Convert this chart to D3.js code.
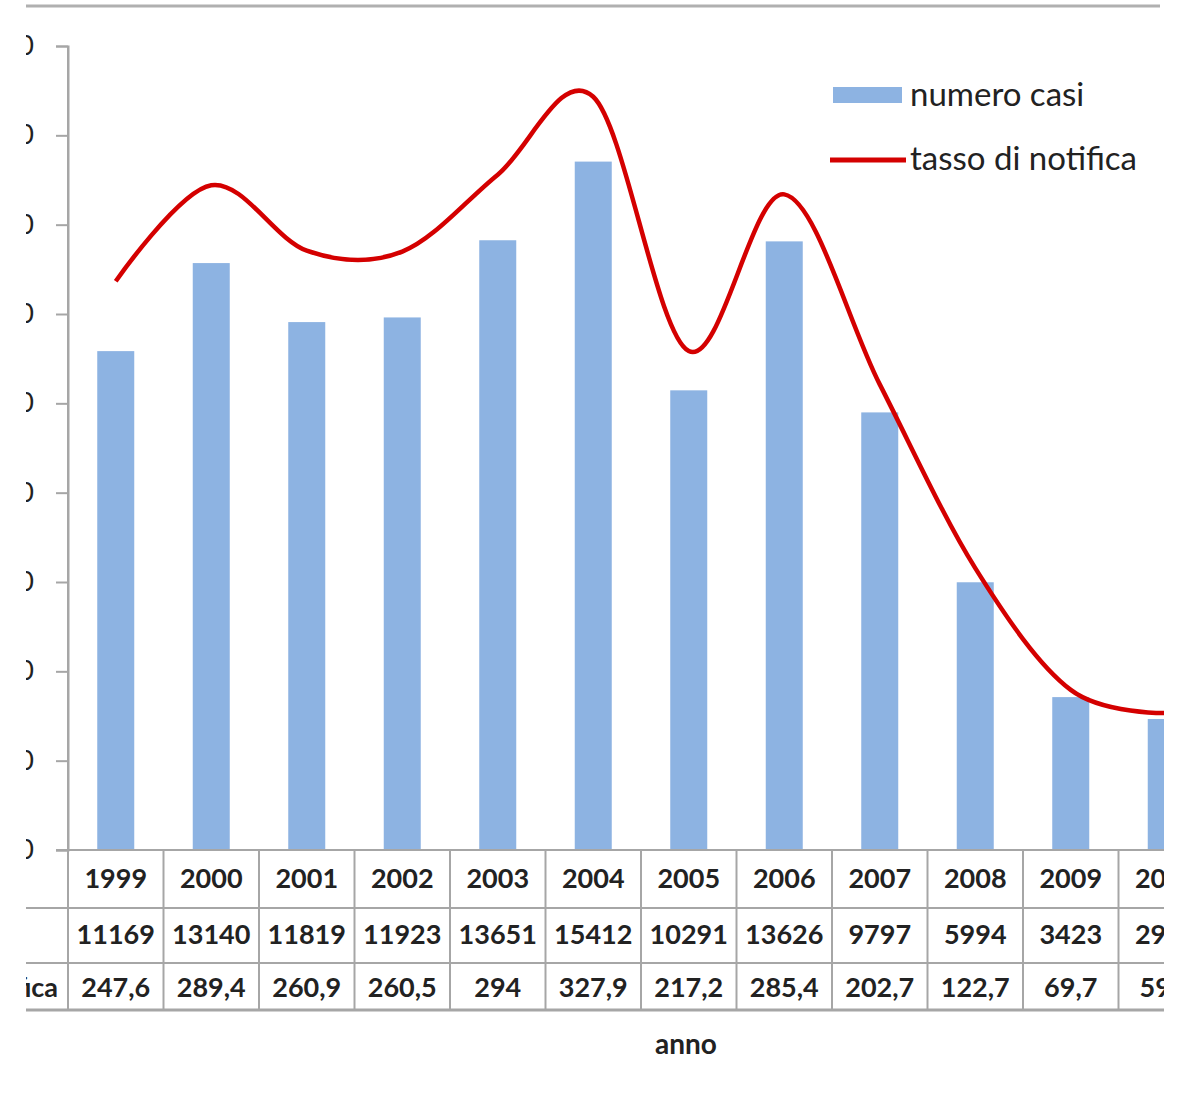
<!DOCTYPE html>
<html>
<head>
<meta charset="utf-8">
<script src="https://cdn.jsdelivr.net/npm/d3@7"></script>
<style>
  html, body { margin: 0; padding: 0; background: #fff; }
  svg { display: block; }
  text { font-family: Lato, "Open Sans", sans-serif; fill: #222; }
</style>
</head>
<body>
<svg id="chart" width="1182" height="1103"></svg>
<script>
  // dati (anni, numero casi, tasso di notifica)
  var anni   = ['1999', '2000', '2001', '2002', '2003', '2004', '2005', '2006', '2007', '2008', '2009', '2010'];
  var casi   = [11169, 13140, 11819, 11923, 13651, 15412, 10291, 13626, 9797, 5994, 3423, 2933];
  var tasso  = [247.6, 289.4, 260.9, 260.5, 294, 327.9, 217.2, 285.4, 202.7, 122.7, 69.7, 59.6];
  var ticksCasi = [0, 2000, 4000, 6000, 8000, 10000, 12000, 14000, 16000, 18000];
  var righeTabella = ['', 'numero casi', 'tasso di notifica'];

  var svg = d3.select('#chart');

  // l'immagine originale è ritagliata a sinistra e a destra
  svg.append('defs').append('clipPath').attr('id', 'crop')
    .append('rect').attr('x', 26).attr('y', 0).attr('width', 1138).attr('height', 1103);

  var g = svg.append('g').attr('clip-path', 'url(#crop)');

  var colW = 95.5;
  var x = d3.scaleBand().domain(anni).range([68, 68 + colW * anni.length]);
  var yCasi  = d3.scaleLinear().domain([0, 18000]).range([850, 46]);
  var yTasso = d3.scaleLinear().domain([0, 350]).range([850, 46]);

  var grigio = '#a6a6a6';

  // bordo superiore
  g.append('line')
    .attr('x1', 26).attr('x2', 1160).attr('y1', 6).attr('y2', 6)
    .attr('stroke', '#b0b0b0').attr('stroke-width', 3);

  // barre
  var barW = 37;
  g.selectAll('rect.bar')
    .data(casi)
    .enter().append('rect')
    .attr('class', 'bar')
    .attr('x', function (d, i) { return x(anni[i]) + (x.bandwidth() - barW) / 2; })
    .attr('y', function (d) { return yCasi(d); })
    .attr('width', barW)
    .attr('height', function (d) { return yCasi(0) - yCasi(d); })
    .attr('fill', '#8db3e2');

  // asse sinistro
  var asse = g.append('g')
    .attr('transform', 'translate(68,0)')
    .call(d3.axisLeft(yCasi).tickValues(ticksCasi).tickSize(12).tickPadding(22).tickFormat(d3.format('d')));
  asse.select('.domain').attr('stroke', grigio).attr('stroke-width', 2);
  asse.selectAll('.tick line').attr('stroke', grigio).attr('stroke-width', 2);
  asse.selectAll('.tick text')
    .style('font-family', 'Lato, sans-serif').style('font-size', '27px').attr('fill', '#222');

  // linea tasso di notifica
  var linea = d3.line()
    .x(function (d, i) { return x(anni[i]) + x.bandwidth() / 2; })
    .y(function (d) { return yTasso(d); })
    .curve(d3.curveCardinal.tension(0));

  g.append('path')
    .datum(tasso)
    .attr('d', linea)
    .attr('fill', 'none')
    .attr('stroke', '#d40000')
    .attr('stroke-width', 4.5);

  // tabella dati
  var rowY = [850, 908, 963, 1010];
  var xEnd = x.range()[1];

  g.selectAll('line.hrow')
    .data(rowY)
    .enter().append('line')
    .attr('class', 'hrow')
    .attr('x1', function (d, i) { return i === 0 ? 56 : 26; })
    .attr('x2', xEnd)
    .attr('y1', function (d) { return d; })
    .attr('y2', function (d) { return d; })
    .attr('stroke', grigio)
    .attr('stroke-width', function (d, i) { return i === 3 ? 3 : 2; });

  var bordi = anni.map(function (a) { return x(a); }).concat([xEnd]);
  g.selectAll('line.vcol')
    .data(bordi)
    .enter().append('line')
    .attr('class', 'vcol')
    .attr('x1', function (d) { return d; })
    .attr('x2', function (d) { return d; })
    .attr('y1', function (d, i) { return i === 0 ? 46 : 850; })
    .attr('y2', 1010)
    .attr('stroke', grigio)
    .attr('stroke-width', 2);

  var righe = [
    anni,
    casi.map(function (v) { return String(v); }),
    tasso.map(function (v) { return String(v).replace('.', ','); })
  ];
  var baseY = [888, 944, 997];

  righe.forEach(function (riga, r) {
    g.selectAll('text.r' + r)
      .data(riga)
      .enter().append('text')
      .attr('class', 'r' + r)
      .attr('x', function (d, i) { return x(anni[i]) + x.bandwidth() / 2; })
      .attr('y', baseY[r])
      .attr('text-anchor', 'middle')
      .style('font-size', '27px')
      .style('font-weight', 'bold')
      .attr('fill', '#333')
      .text(function (d) { return d; });
  });

  // etichette di riga (allineate a sinistra, tagliate nell'originale)
  g.selectAll('text.rowlab')
    .data(righeTabella)
    .enter().append('text')
    .attr('class', 'rowlab')
    .attr('x', -131)
    .attr('y', function (d, i) { return baseY[i]; })
    .attr('text-anchor', 'start')
    .style('font-size', '27px')
    .style('font-weight', 'bold')
    .attr('fill', '#333')
    .text(function (d) { return d; });

  // titolo asse
  g.append('text')
    .attr('x', 686).attr('y', 1054)
    .attr('text-anchor', 'middle')
    .style('font-size', '28px')
    .style('font-weight', 'bold')
    .attr('fill', '#333')
    .text('anno');

  // legenda
  var leg = g.append('g');
  leg.append('rect')
    .attr('x', 833).attr('y', 87).attr('width', 69).attr('height', 16)
    .attr('fill', '#8db3e2');
  leg.append('text')
    .attr('x', 910).attr('y', 106)
    .style('font-size', '33px')
    .attr('fill', '#333')
    .text('numero casi');
  leg.append('line')
    .attr('x1', 830).attr('x2', 906).attr('y1', 160).attr('y2', 160)
    .attr('stroke', '#d40000').attr('stroke-width', 5);
  leg.append('text')
    .attr('x', 910).attr('y', 170)
    .style('font-size', '33px')
    .attr('fill', '#333')
    .text('tasso di notifica');
</script>
</body>
</html>
